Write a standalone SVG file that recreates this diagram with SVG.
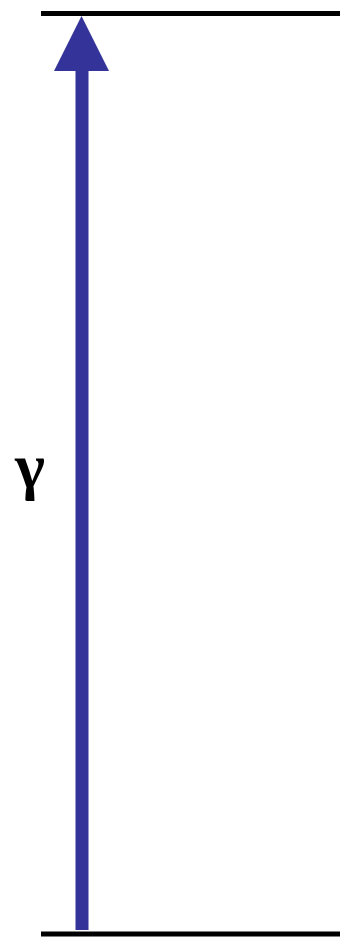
<svg xmlns="http://www.w3.org/2000/svg" width="340" height="939" viewBox="0 0 340 939">
<style>
.bound{stroke:#000;stroke-width:5;fill:none}
.ray{stroke:#333399;stroke-width:13;fill:none}
.head{fill:#333399}
.lbl{font-family:"Liberation Serif","DejaVu Serif",serif;font-weight:bold;font-size:64px;fill:#000}
</style>
<g id="top-boundary"><line class="bound" x1="41" y1="13.5" x2="340" y2="13.5"/></g>
<g id="bottom-boundary"><line class="bound" x1="41" y1="934" x2="340" y2="934"/></g>
<g id="connectors">
<line class="ray" x1="82" y1="930" x2="82" y2="68"/>
<polygon class="head" points="81.5,16 54,71 109,71"/>
</g>
<g id="label"><text class="lbl" x="15" y="487">γ</text></g>
</svg>
